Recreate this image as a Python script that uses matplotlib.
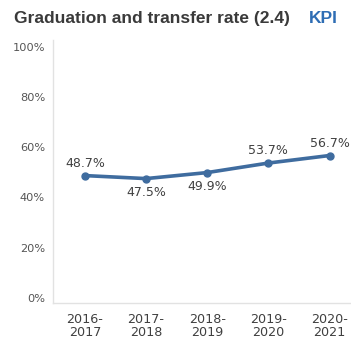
import matplotlib
matplotlib.use("Agg")
import matplotlib.pyplot as plt

years = ["2016-\n2017", "2017-\n2018", "2018-\n2019", "2019-\n2020", "2020-\n2021"]
rates = [48.7, 47.5, 49.9, 53.7, 56.7]
label_above = [True, False, False, True, True]
y_ticks = [0, 20, 40, 60, 80, 100]

line_color = "#3f6c9f"
text_color = "#404040"

fig = plt.figure(figsize=(3.51, 3.43), dpi=100)
ax = fig.add_axes([0.152, 0.1166, 0.848, 0.7664])

x = list(range(len(rates)))
ax.plot(x, rates, color=line_color, lw=2.6, marker="o", ms=5, solid_capstyle="round")

for xi, v, up in zip(x, rates, label_above):
    ax.annotate(f"{v}%", (xi, v), xytext=(0, 4 if up else -5), textcoords="offset points",
                ha="center", va="bottom" if up else "top", fontsize=9, color=text_color)

ax.set_xlim(-0.515, 4.35)
ax.set_ylim(-2.1, 102.7)
ax.set_yticks(y_ticks)
ax.set_yticklabels([f"{t}%" for t in y_ticks], fontsize=8.2, color="#555555")
ax.set_xticks(x)
ax.set_xticklabels(years, fontsize=9.2, color=text_color, linespacing=1.05)
ax.tick_params(length=0)
ax.tick_params(axis="y", pad=6)
ax.tick_params(axis="x", pad=7)
for s in ("top", "right"):
    ax.spines[s].set_visible(False)
for s in ("left", "bottom"):
    ax.spines[s].set_color("#e2e2e2")
    ax.spines[s].set_linewidth(1)

fig.text(0.04, 0.947, "Graduation and transfer rate (2.4)", fontsize=12.5, fontweight="bold",
         family="Liberation Sans", color="#3a3a3a", va="center", ha="left")
fig.text(0.88, 0.947, "KPI", fontsize=12.5, fontweight="bold", family="Liberation Sans",
         color="#2e6db4", va="center", ha="left")

fig.savefig("out.png", dpi=100)
